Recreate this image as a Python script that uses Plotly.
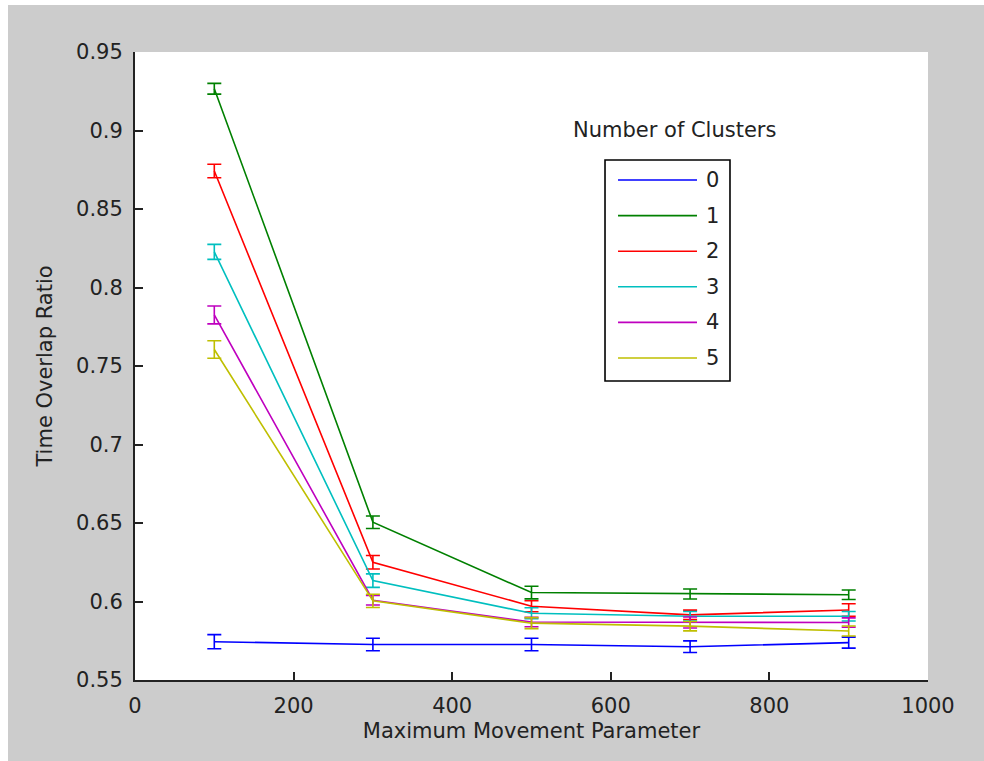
import plotly.graph_objects as go

# ---- data ----
movement = [100, 300, 500, 700, 900]
cluster_names = ["0", "1", "2", "3", "4", "5"]
ratio_c0 = [0.5744, 0.5726, 0.5726, 0.5712, 0.5738]
ratio_c1 = [0.9266, 0.6505, 0.6057, 0.6048, 0.6043]
ratio_c2 = [0.8742, 0.6250, 0.5970, 0.5915, 0.5946]
ratio_c3 = [0.8227, 0.6133, 0.5925, 0.5906, 0.5906]
ratio_c4 = [0.7825, 0.6008, 0.5869, 0.5866, 0.5866]
ratio_c5 = [0.7605, 0.6004, 0.5862, 0.5843, 0.5812]
err_c0 = [0.0045, 0.0040, 0.0040, 0.0037, 0.0035]
err_c1 = [0.0034, 0.0040, 0.0040, 0.0032, 0.0030]
err_c2 = [0.0043, 0.0043, 0.0035, 0.0030, 0.0040]
err_c3 = [0.0048, 0.0043, 0.0035, 0.0030, 0.0030]
err_c4 = [0.0057, 0.0030, 0.0030, 0.0035, 0.0030]
err_c5 = [0.0056, 0.0042, 0.0035, 0.0030, 0.0032]
y_tickvals = [0.55, 0.6, 0.65, 0.7, 0.75, 0.8, 0.85, 0.9, 0.95]
y_ticktext = ["0.55", "0.6", "0.65", "0.7", "0.75", "0.8", "0.85", "0.9", "0.95"]
x_tickvals = [0, 200, 400, 600, 800, 1000]
x_ticktext = ["0", "200", "400", "600", "800", "1000"]

series = [ratio_c0, ratio_c1, ratio_c2, ratio_c3, ratio_c4, ratio_c5]
errors = [err_c0, err_c1, err_c2, err_c3, err_c4, err_c5]
colors = ["#0000FF", "#008000", "#FF0000", "#00BFBF", "#BF00BF", "#BFBF00"]

FONT = "DejaVu Sans"
TXT = "#222222"

fig = go.Figure()
for name, ys, es, col in zip(cluster_names, series, errors, colors):
    fig.add_trace(go.Scatter(
        x=movement, y=ys, name=name, mode="lines",
        line=dict(color=col, width=1.6),
        error_y=dict(type="data", array=es, visible=True, color=col,
                     thickness=1.6, width=7),
        showlegend=False,
    ))

# custom legend (MATLAB-style box with long line samples)
lx0, lx1 = 0.5927, 0.7503
ly0, ly1 = 0.4761, 0.8280
fig.add_shape(type="rect", xref="paper", yref="paper", x0=lx0, x1=lx1,
              y0=ly0, y1=ly1, line=dict(color="black", width=1.6),
              fillcolor="white", layer="above")
entry_top = 0.7962
entry_step = 0.0567
for i, (name, col) in enumerate(zip(cluster_names, colors)):
    yy = entry_top - i * entry_step
    fig.add_shape(type="line", xref="paper", yref="paper", x0=0.6091,
                  x1=0.7087, y0=yy, y1=yy, line=dict(color=col, width=1.6),
                  layer="above")
    fig.add_annotation(xref="paper", yref="paper", x=0.718, y=yy,
                       text=name, showarrow=False, xanchor="left",
                       yanchor="middle", font=dict(family=FONT, size=21, color=TXT))
fig.add_annotation(xref="paper", yref="paper", x=0.6797, y=0.8758,
                   text="Number of Clusters", showarrow=False,
                   xanchor="center", yanchor="middle",
                   font=dict(family=FONT, size=21, color=TXT))

axis_common = dict(
    showgrid=False, zeroline=False, showline=True, linecolor="#222222",
    linewidth=2, ticks="inside", ticklen=8, tickwidth=1.5, tickcolor="#222222",
    tickfont=dict(family=FONT, size=21, color=TXT),
)
fig.update_xaxes(range=[0, 1000], tickvals=x_tickvals, ticktext=x_ticktext,
                 title=dict(text="Maximum Movement Parameter",
                            font=dict(family=FONT, size=21, color=TXT), standoff=6),
                 ticklabelstandoff=6, **axis_common)
fig.update_yaxes(range=[0.55, 0.95], tickvals=y_tickvals, ticktext=y_ticktext,
                 title=dict(text="Time Overlap Ratio",
                            font=dict(family=FONT, size=21, color=TXT), standoff=18),
                 ticklabelstandoff=6, **axis_common)

fig.update_layout(
    width=976, height=756,
    margin=dict(l=127, r=56, t=47, b=81, pad=0),
    paper_bgcolor="#CCCCCC", plot_bgcolor="white",
    font=dict(family=FONT, size=21, color=TXT),
)

fig.write_html(
    "out.html",
    post_script="document.body.style.margin='5px 0 0 8px';"
                "document.body.style.overflow='hidden';",
)
